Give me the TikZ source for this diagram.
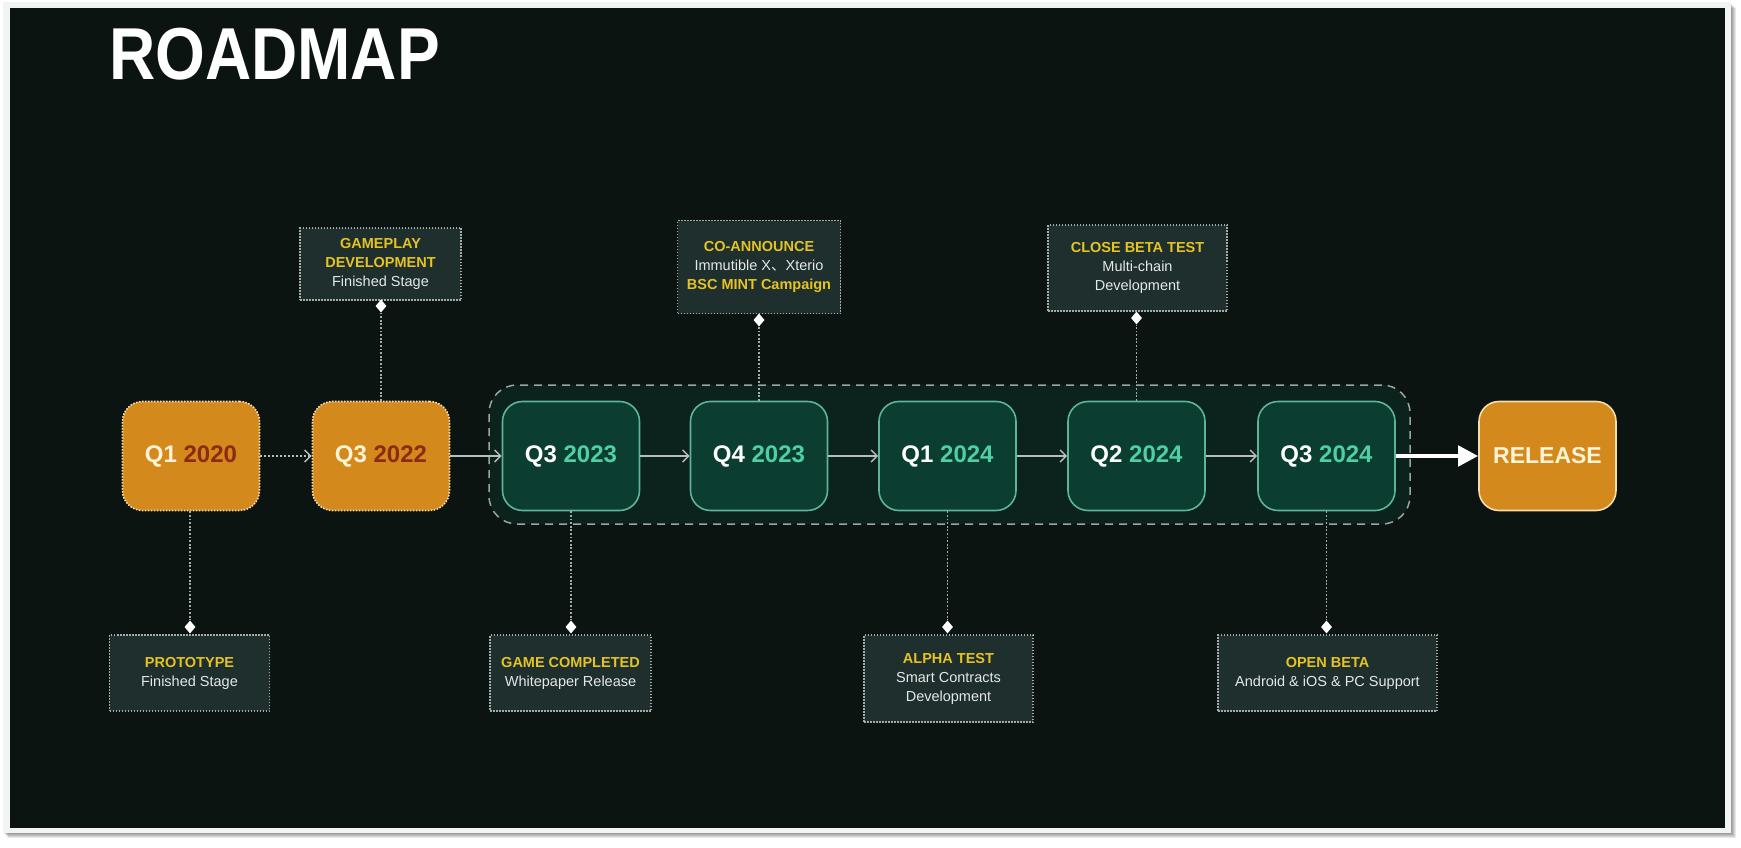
\documentclass[tikz,border=0pt]{standalone}
\usepackage{fontspec}
\setmainfont{Liberation Sans}
\newfontfamily\cjk{Noto Sans CJK SC}
\usetikzlibrary{arrows.meta,shapes.geometric}
\definecolor{bg}{HTML}{0C1412}
\definecolor{framew}{HTML}{F1F4F3}
\definecolor{orng}{HTML}{D4891C}
\definecolor{cream}{HTML}{F3DCAE}
\definecolor{creamtxt}{HTML}{FFF4D8}
\definecolor{dred}{HTML}{8E2A12}
\definecolor{grfill}{HTML}{0B3D30}
\definecolor{grline}{HTML}{5DB598}
\definecolor{teal}{HTML}{4FCFA3}
\definecolor{grpfill}{HTML}{0B221D}
\definecolor{grpline}{HTML}{9AA5A1}
\definecolor{slate}{HTML}{1E2F2E}
\definecolor{dotgray}{HTML}{A3ACA9}
\definecolor{ylw}{HTML}{E4C323}
\definecolor{bodyw}{HTML}{E4E8E7}
\definecolor{arrg}{HTML}{B7BFBC}
\tikzset{
  mainbox/.style={rounded corners=20pt, minimum width=137pt, minimum height=109pt, inner sep=0pt,
    font=\fontsize{24}{24}\selectfont\bfseries, line width=1.6pt},
  orangebox/.style={mainbox, fill=orng, draw=cream, dash pattern=on 1.6pt off 1.4pt, text=creamtxt},
  releasebox/.style={mainbox, fill=orng, draw=cream, text=creamtxt, font=\fontsize{23}{23}\selectfont\bfseries},
  greenbox/.style={mainbox, fill=grfill, draw=grline, text=white},
  infobox/.style={fill=slate, draw=dotgray, line width=1.3pt, dash pattern=on 1.5pt off 1.5pt,
    inner sep=0pt, align=center, text=bodyw, font=\fontsize{14.5}{19}\selectfont},
  dmd/.style={diamond, fill=white, inner sep=0pt, minimum width=11pt, minimum height=13pt},
  vconn/.style={draw=dotgray, line width=1.2pt, dash pattern=on 1.8pt off 1.8pt},
  harrow/.style={draw=arrg, line width=1.6pt, -{Straight Barb[length=6pt,width=12pt,line width=1.5pt]}},
  dharrow/.style={harrow, dash pattern=on 2pt off 2pt},
  bigarrow/.style={draw=white, line width=4.5pt, -{Triangle[length=20pt,width=20pt]}}
}
\newcommand{\yt}[1]{{\color{ylw}\bfseries #1}}
\begin{document}
\begin{tikzpicture}[x=1pt,y=-1pt]
\useasboundingbox (0,0) rectangle (1741,848);
\fill[white] (0,0) rectangle (1741,848);
\foreach \i in {1,...,5} \fill[black, opacity=0.09] (3+\i,3+\i) rectangle (1731+\i,833+\i);
\fill[framew] (3,2) rectangle (1731,833);
\fill[bg] (10,8) rectangle (1725,828);

\node[anchor=base west, inner sep=0pt, text=white, font=\fontsize{64}{64}\selectfont\bfseries] (title) at (109,80) {\scalebox{1}[1.15]{ROADMAP}};

% group box
\node[draw=grpline, fill=grpfill, line width=1.5pt, dash pattern=on 8pt off 6pt, rounded corners=28pt,
  minimum width=921pt, minimum height=139pt, inner sep=0pt] (grp) at (949.5,454.5) {};

% main nodes
\node[orangebox] (q1a) at (191,456) {Q1 \textcolor{dred}{2020}};
\node[orangebox] (q3b) at (381,456) {Q3 \textcolor{dred}{2022}};
\node[greenbox] (q3c) at (571,456) {Q3 \textcolor{teal}{2023}};
\node[greenbox] (q4c) at (759,456) {Q4 \textcolor{teal}{2023}};
\node[greenbox] (q1d) at (947.5,456) {Q1 \textcolor{teal}{2024}};
\node[greenbox] (q2d) at (1136.5,456) {Q2 \textcolor{teal}{2024}};
\node[greenbox] (q3d) at (1326.5,456) {Q3 \textcolor{teal}{2024}};
\node[releasebox] (rel) at (1547.5,456) {RELEASE};

% arrows
\draw[dharrow] (q1a.east) -- (q3b.west);
\draw[harrow] (q3b.east) -- (q3c.west);
\draw[harrow] (q3c.east) -- (q4c.west);
\draw[harrow] (q4c.east) -- (q1d.west);
\draw[harrow] (q1d.east) -- (q2d.west);
\draw[harrow] (q2d.east) -- (q3d.west);
\draw[bigarrow] (q3d.east) -- (rel.west);

% info boxes
\node[infobox, minimum width=161pt, minimum height=72pt] (igp) at (380.5,264) {\yt{GAMEPLAY}\\\yt{DEVELOPMENT}\\Finished Stage};
\node[infobox, minimum width=163pt, minimum height=93pt] (ico) at (759,267) {\yt{CO-ANNOUNCE}\\Immutible X{\cjk 、}Xterio\\\yt{BSC MINT Campaign}};
\node[infobox, minimum width=179pt, minimum height=86pt] (icb) at (1137.5,268) {\yt{CLOSE BETA TEST}\\Multi-chain\\Development};
\node[infobox, minimum width=160pt, minimum height=76pt] (ipr) at (189.5,673) {\yt{PROTOTYPE}\\Finished Stage};
\node[infobox, minimum width=161pt, minimum height=76pt] (igc) at (570.5,673) {\yt{GAME COMPLETED}\\Whitepaper Release};
\node[infobox, minimum width=169pt, minimum height=87pt] (ial) at (948.5,678.5) {\yt{ALPHA TEST}\\Smart Contracts\\Development};
\node[infobox, minimum width=219pt, minimum height=76pt] (iob) at (1327.5,673) {\yt{OPEN BETA}\\Android \& iOS \& PC Support};

% diamonds
\node[dmd] (dgp) at (381,306) {};
\node[dmd] (dco) at (759,320) {};
\node[dmd] (dcb) at (1136.5,318) {};
\node[dmd] (dpr) at (190,627) {};
\node[dmd] (dgc) at (571,627) {};
\node[dmd] (dal) at (947.5,627) {};
\node[dmd] (dob) at (1326.5,627) {};

% vertical connectors
\draw[vconn] (dgp |- q3b.north) -- (dgp.south);
\draw[vconn] (dco |- q4c.north) -- (dco.south);
\draw[vconn] (dcb |- q2d.north) -- (dcb.south);
\draw[vconn] (dpr |- q1a.south) -- (dpr.north);
\draw[vconn] (dgc |- q3c.south) -- (dgc.north);
\draw[vconn] (dal |- q1d.south) -- (dal.north);
\draw[vconn] (dob |- q3d.south) -- (dob.north);
\end{tikzpicture}
\end{document}
